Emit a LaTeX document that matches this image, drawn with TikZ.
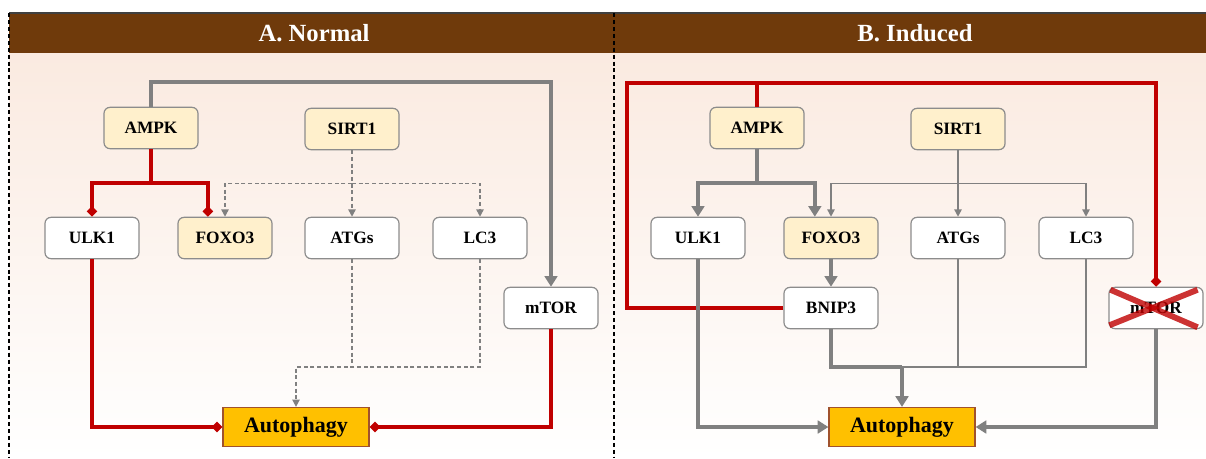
\documentclass[tikz,border=0pt]{standalone}
\usepackage{fontspec}
\setmainfont{Liberation Serif}
\usetikzlibrary{arrows.meta,calc}

\definecolor{hdr}{HTML}{6F3A0B}
\definecolor{bgtop}{HTML}{FAEAE0}
\definecolor{inh}{HTML}{C00000}
\definecolor{act}{HTML}{808080}
\definecolor{boxline}{HTML}{8C8C8C}
\definecolor{hl}{HTML}{FFF0CC}
\definecolor{goalfill}{HTML}{FFC000}
\definecolor{goalline}{HTML}{A0522D}

\tikzset{
  gene/.style={draw=boxline, line width=0.9pt, rounded corners=4.5pt, fill=white,
    minimum width=70.5pt, minimum height=31pt, inner sep=0pt,
    font=\bfseries\fontsize{13}{15}\selectfont},
  keygene/.style={gene, fill=hl},
  goal/.style={draw=goalline, line width=0.9pt, fill=goalfill,
    minimum width=109.5pt, minimum height=29.25pt, inner sep=0pt,
    font=\bfseries\fontsize{16.5}{18}\selectfont},
  hdrtext/.style={text=white, font=\bfseries\fontsize{18.5}{20}\selectfont},
  panelsep/.style={draw=black, line width=0.8pt, dash pattern=on 3pt off 2.2pt},
  inhline/.style={draw=inh, line width=3.3pt},
  inhib/.style={inhline, -{Diamond[length=8pt, width=8pt]}},
  actline/.style={draw=act, line width=3pt},
  actarrow/.style={actline, -{Triangle[length=8pt, width=9.5pt]}},
  weak/.style={draw=act, line width=1.1pt, -{Triangle[length=5.5pt, width=5.5pt]}},
  weakline/.style={draw=act, line width=1.1pt},
  dashact/.style={draw=act, line width=1.1pt, dash pattern=on 3pt off 2pt,
    -{Triangle[length=5.5pt, width=5.5pt]}},
  dashline/.style={draw=act, line width=1.1pt, dash pattern=on 3pt off 2pt},
  cross/.style={draw=inh, line width=4.4pt, opacity=0.8}
}

\begin{document}
\begin{tikzpicture}[x=0.75pt, y=-0.75pt]
\useasboundingbox (0,0) rectangle (1206,458);
\fill[white] (0,0) rectangle (1206,458);

% panel backgrounds and header band
\shade[top color=bgtop, bottom color=white] (9,53) rectangle (1206,458);
\fill[hdr] (9,13) rectangle (1206,53);
\draw[black!75, line width=0.8pt] (9,13) -- (1206,13);
\draw[panelsep] (9,13) -- (9,458);
\draw[panelsep] (614,13) -- (614,458);
\node[hdrtext] (hA) at (314,33) {A. Normal};
\node[hdrtext] (hB) at (915,33) {B. Induced};

% ---------- A. Normal ----------
\node[keygene] (aAMPK) at (151,128) {AMPK};
\node[keygene] (aSIRT) at (352,129) {SIRT1};
\node[gene]    (aULK)  at (92,238)  {ULK1};
\node[keygene] (aFOXO) at (225,238) {FOXO3};
\node[gene]    (aATG)  at (352,238) {ATGs};
\node[gene]    (aLC3)  at (480,238) {LC3};
\node[gene]    (amTOR) at (551,308) {mTOR};
\node[goal]    (aAuto) at (296,427) {Autophagy};

\coordinate (aTop) at ($(aAMPK.north)+(0,-25)$);
\draw[actarrow] (aAMPK.north) -- (aTop) -| (amTOR.north);

\coordinate (aJ) at ($(aAMPK.south)+(0,34)$);
\coordinate (aFOXOin) at ($(aFOXO.north west)!0.32!(aFOXO.north east)$);
\draw[inhline] (aAMPK.south) -- (aJ);
\draw[inhib] (aJ) -| (aULK.north);
\draw[inhib] (aJ) -| (aFOXOin);

\coordinate (aK) at (aSIRT.south |- aJ);
\draw[dashact] (aSIRT.south) -- (aATG.north);
\draw[dashact] (aK) -| (aFOXO.north);
\draw[dashact] (aK) -| (aLC3.north);

\draw[inhib] (aULK.south) |- (aAuto.west);
\draw[inhib] (amTOR.south) |- (aAuto.east);

\coordinate (aM) at ($(aAuto.north)+(0,-40)$);
\draw[dashline] (aATG.south) -- (aATG.south |- aM);
\draw[dashact] (aLC3.south) |- (aM) -- (aAuto.north);

% ---------- B. Induced ----------
\node[keygene] (bAMPK) at (757,128) {AMPK};
\node[keygene] (bSIRT) at (958,129) {SIRT1};
\node[gene]    (bULK)  at (698,238) {ULK1};
\node[keygene] (bFOXO) at (831,238) {FOXO3};
\node[gene]    (bATG)  at (958,238) {ATGs};
\node[gene]    (bLC3)  at (1086,238) {LC3};
\node[gene]    (bBNIP) at (831,308) {BNIP3};
\node[gene]    (bmTOR) at (1156,308) {mTOR};
\node[goal]    (bAuto) at (902,427) {Autophagy};

\coordinate (bCornerL) at (627,83);
\draw[inhline] (bAMPK.north) -- (bAMPK.north |- bCornerL);
\draw[inhib] (bBNIP.west) -| (bCornerL) -| (bmTOR.north);

\coordinate (bJ) at ($(bAMPK.south)+(0,34)$);
\coordinate (bFOXOin) at ($(bFOXO.north west)!0.33!(bFOXO.north east)$);
\draw[actline] (bAMPK.south) -- (bJ);
\draw[actarrow] (bJ) -| (bULK.north);
\draw[actarrow] (bJ) -| (bFOXOin);

\coordinate (bK) at (bSIRT.south |- bJ);
\draw[weak] (bSIRT.south) -- (bATG.north);
\draw[weak] (bK) -| (bFOXO.north);
\draw[weak] (bK) -| (bLC3.north);

\draw[actarrow] (bFOXO.south) -- (bBNIP.north);
\draw[actarrow] (bULK.south) |- (bAuto.west);
\draw[actarrow] (bmTOR.south) |- (bAuto.east);

\coordinate (bM) at ($(bAuto.north)+(0,-40)$);
\draw[weakline] (bATG.south) -- (bATG.south |- bM);
\draw[weakline] (bLC3.south) |- (bM);
\draw[actline] (bBNIP.south) |- (bM);
\draw[actarrow] (bM) -- (bAuto.north);

% mTOR switched off
\draw[cross] ($(bmTOR.north west)+(2,3)$) -- ($(bmTOR.south east)+(-6,-2)$);
\draw[cross] ($(bmTOR.south west)+(1,-4)$) -- ($(bmTOR.north east)+(-6,3)$);
\end{tikzpicture}
\end{document}
